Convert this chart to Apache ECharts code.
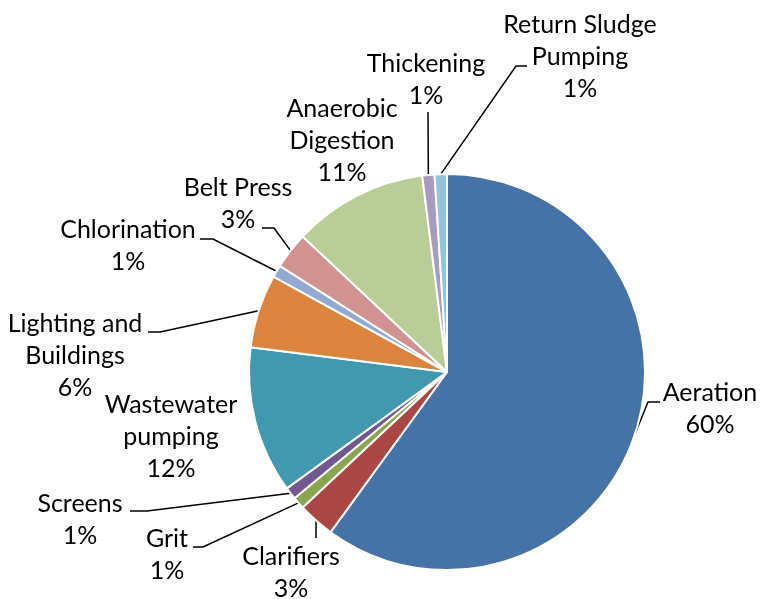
<!DOCTYPE html>
<html>
<head>
<meta charset="utf-8">
<script src="https://cdn.jsdelivr.net/npm/echarts@6/dist/echarts.min.js"></script>
<style>
  html, body { margin: 0; padding: 0; background: #fff; }
  #chart { width: 760px; height: 599px; }
</style>
</head>
<body>
<div id="chart"></div>
<script>
// Energy use by process (percent of total)
const categories = [
  'Aeration', 'Clarifiers', 'Grit', 'Screens', 'Wastewater\npumping',
  'Lighting and\nBuildings', 'Chlorination', 'Belt Press',
  'Anaerobic\nDigestion', 'Thickening', 'Return Sludge\nPumping'
];
const shares = [60, 3, 1, 1, 12, 6, 1, 3, 11, 1, 1];
const colors = [
  '#4572A7', '#AA4643', '#89A54E', '#71588F', '#4198AF',
  '#DB843D', '#93A9CF', '#D19392', '#B9CD96', '#A99BBD', '#92C5D8'
];

// Label block centres and leader-line bends (pixels), one per slice
const labelPos = [
  [710, 409], [291, 573], [167, 555], [80, 520], [171, 437],
  [75, 356], [128, 246], [238, 204], [342, 141], [426, 80], [580, 57]
];
const leaderBend = [
  [[648, 402], [660, 402]],
  [[316, 538], [316, 538]],
  [[203, 547], [193, 547]],
  [[147, 511], [130, 511]],
  null,
  [[160, 332], [148, 332]],
  [[213, 239], [200, 239]],
  [[274, 228], [262, 228]],
  null,
  [[428, 112], [428, 112]],
  [[516, 66], [527, 66]]
];

const chart = echarts.init(document.getElementById('chart'));

const data = categories.map((name, i) => ({
  name: name,
  value: shares[i],
  itemStyle: { color: colors[i] },
  labelLine: { show: leaderBend[i] !== null }
}));

chart.setOption({
  animation: false,
  backgroundColor: '#ffffff',
  series: [{
    type: 'pie',
    center: [447, 372],
    radius: 198,
    startAngle: 90,
    clockwise: true,
    avoidLabelOverlap: false,
    minShowLabelAngle: 0,
    itemStyle: { borderColor: '#ffffff', borderWidth: 2 },
    label: {
      show: true,
      position: 'outside',
      formatter: p => p.name + '\n' + p.value + '%',
      fontFamily: 'Lato',
      fontSize: 25,
      lineHeight: 32,
      color: '#000000',
      align: 'center'
    },
    labelLine: {
      show: true,
      length: 20,
      length2: 10,
      smooth: false,
      lineStyle: { color: '#000000', width: 1.5 }
    },
    labelLayout: function (params) {
      const i = params.dataIndex;
      const out = {
        x: labelPos[i][0],
        y: labelPos[i][1],
        align: 'center',
        verticalAlign: 'middle'
      };
      const bend = leaderBend[i];
      if (bend && params.labelLinePoints) {
        const start = params.labelLinePoints[0];
        out.labelLinePoints = [[start[0], start[1]], bend[0], bend[1]];
      }
      return out;
    },
    data: data
  }]
});
</script>
</body>
</html>
